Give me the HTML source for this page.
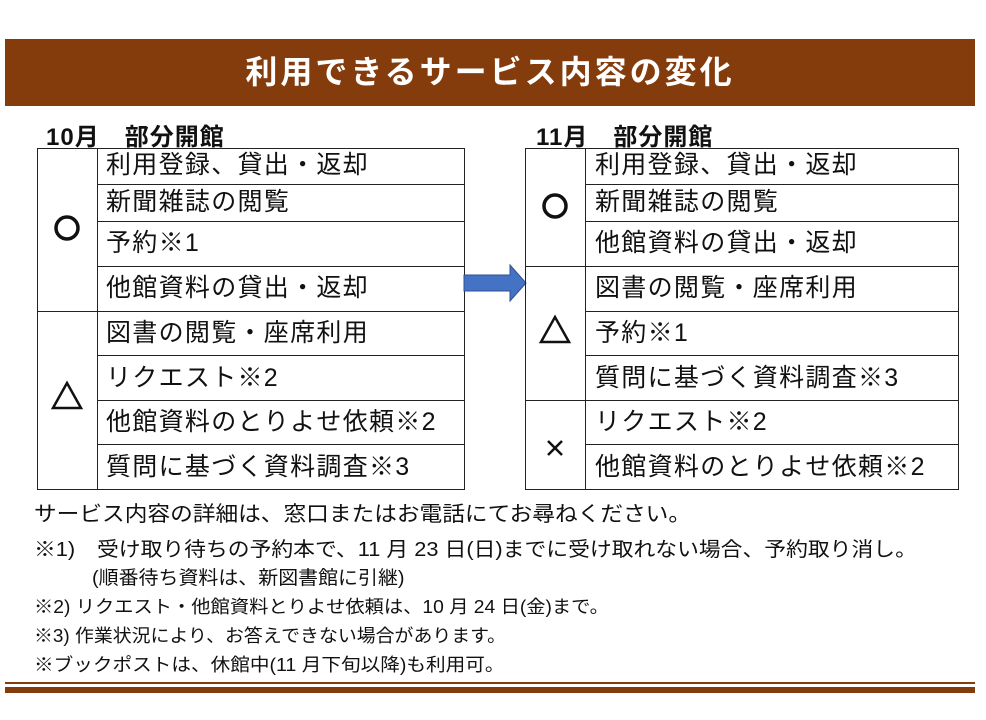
<!DOCTYPE html>
<html><head><meta charset="utf-8"><style>
body{margin:0;width:986px;height:720px;background:#fff;position:relative;overflow:hidden;font-family:"Liberation Sans","Noto Sans CJK JP",sans-serif;color:#111}
.a{position:absolute;white-space:nowrap}
.hdr{left:5px;top:39px;width:970px;height:67px;background:#843c0c;color:#fff;font-size:32px;font-weight:bold;text-align:center;line-height:67px;letter-spacing:3px}
.h2{font-size:24px;font-weight:bold;letter-spacing:1px}
.c{position:absolute;border:1.5px solid #222;box-sizing:border-box}
.t{position:absolute;font-size:25px;letter-spacing:1.3px;white-space:nowrap;line-height:1}
.sv{position:absolute}
.n{transform-origin:0 0}
</style></head><body>
<div class="a hdr">利用できるサービス内容の変化</div>
<div class="a h2" style="left:46px;top:117px">10月　部分開館</div>
<div class="a h2" style="left:536px;top:117px">11月　部分開館</div>

<div class="c" style="left:37px;top:148px;width:428px;height:342px"></div>
<div class="c" style="left:97px;top:148px;width:0;height:342px;border-width:0 0 0 1.5px"></div>
<div class="c" style="left:37px;top:311px;width:61px;height:0;border-width:1.5px 0 0 0"></div>
<div class="c" style="left:97px;top:184px;width:368px;height:0;border-width:1.5px 0 0 0"></div>
<div class="c" style="left:97px;top:221px;width:368px;height:0;border-width:1.5px 0 0 0"></div>
<div class="c" style="left:97px;top:266px;width:368px;height:0;border-width:1.5px 0 0 0"></div>
<div class="c" style="left:97px;top:311px;width:368px;height:0;border-width:1.5px 0 0 0"></div>
<div class="c" style="left:97px;top:355px;width:368px;height:0;border-width:1.5px 0 0 0"></div>
<div class="c" style="left:97px;top:400px;width:368px;height:0;border-width:1.5px 0 0 0"></div>
<div class="c" style="left:97px;top:444px;width:368px;height:0;border-width:1.5px 0 0 0"></div>
<svg class="sv" style="left:37px;top:148px" width="61" height="342">
<circle cx="30" cy="80" r="11" fill="none" stroke="#111" stroke-width="3.5"/>
<path d="M16 260L30 235L44 260Z" fill="none" stroke="#111" stroke-width="2.5"/>
</svg>
<div class="t" style="left:106px;top:153px">利用登録、貸出・返却</div>
<div class="t" style="left:106px;top:190px">新聞雑誌の閲覧</div>
<div class="t" style="left:106px;top:231px">予約※1</div>
<div class="t" style="left:106px;top:276px">他館資料の貸出・返却</div>
<div class="t" style="left:106px;top:321px">図書の閲覧・座席利用</div>
<div class="t" style="left:106px;top:366px">リクエスト※2</div>
<div class="t" style="left:106px;top:410px">他館資料のとりよせ依頼※2</div>
<div class="t" style="left:106px;top:455px">質問に基づく資料調査※3</div>

<svg class="a" style="left:463px;top:263px" width="64" height="40"><path d="M1 12H47V2L63 20L47 38V28H1Z" fill="#4472c4" stroke="#2f528f" stroke-width="1"/></svg>

<div class="c" style="left:525px;top:148px;width:434px;height:342px"></div>
<div class="c" style="left:585px;top:148px;width:0;height:342px;border-width:0 0 0 1.5px"></div>
<div class="c" style="left:525px;top:266px;width:61px;height:0;border-width:1.5px 0 0 0"></div>
<div class="c" style="left:525px;top:400px;width:61px;height:0;border-width:1.5px 0 0 0"></div>
<div class="c" style="left:585px;top:184px;width:374px;height:0;border-width:1.5px 0 0 0"></div>
<div class="c" style="left:585px;top:221px;width:374px;height:0;border-width:1.5px 0 0 0"></div>
<div class="c" style="left:585px;top:266px;width:374px;height:0;border-width:1.5px 0 0 0"></div>
<div class="c" style="left:585px;top:311px;width:374px;height:0;border-width:1.5px 0 0 0"></div>
<div class="c" style="left:585px;top:355px;width:374px;height:0;border-width:1.5px 0 0 0"></div>
<div class="c" style="left:585px;top:400px;width:374px;height:0;border-width:1.5px 0 0 0"></div>
<div class="c" style="left:585px;top:444px;width:374px;height:0;border-width:1.5px 0 0 0"></div>
<svg class="sv" style="left:525px;top:148px" width="61" height="342">
<circle cx="30" cy="58" r="11" fill="none" stroke="#111" stroke-width="3.5"/>
<path d="M16 194L30 169L44 194Z" fill="none" stroke="#111" stroke-width="2.5"/>
<path d="M23 293L37 307M37 293L23 307" stroke="#111" stroke-width="2.5"/>
</svg>
<div class="t" style="left:595px;top:153px">利用登録、貸出・返却</div>
<div class="t" style="left:595px;top:190px">新聞雑誌の閲覧</div>
<div class="t" style="left:595px;top:231px">他館資料の貸出・返却</div>
<div class="t" style="left:595px;top:276px">図書の閲覧・座席利用</div>
<div class="t" style="left:595px;top:321px">予約※1</div>
<div class="t" style="left:595px;top:366px">質問に基づく資料調査※3</div>
<div class="t" style="left:595px;top:410px">リクエスト※2</div>
<div class="t" style="left:595px;top:455px">他館資料のとりよせ依頼※2</div>

<div class="a n" style="left:34px;top:498px;font-size:21px;transform:scaleX(1.08)">サービス内容の詳細は、窓口またはお電話にてお尋ねください。</div>
<div class="a n" style="left:34px;top:533px;font-size:20px;transform:scaleX(1.09)">※1)　受け取り待ちの予約本で、11 月 23 日(日)までに受け取れない場合、予約取り消し。</div>
<div class="a n" style="left:92px;top:563px;font-size:19px;transform:scaleX(1.05)">(順番待ち資料は、新図書館に引継)</div>
<div class="a n" style="left:34px;top:593px;font-size:18px;transform:scaleX(1.07)">※2) リクエスト・他館資料とりよせ依頼は、10 月 24 日(金)まで。</div>
<div class="a n" style="left:34px;top:622px;font-size:18px;transform:scaleX(1.05)">※3) 作業状況により、お答えできない場合があります。</div>
<div class="a n" style="left:34px;top:651px;font-size:18px;transform:scaleX(1.09)">※ブックポストは、休館中(11 月下旬以降)も利用可。</div>

<div class="a" style="left:5px;top:682px;width:970px;height:2px;background:#843c0c"></div>
<div class="a" style="left:5px;top:687px;width:970px;height:6px;background:#843c0c"></div>
</body></html>
